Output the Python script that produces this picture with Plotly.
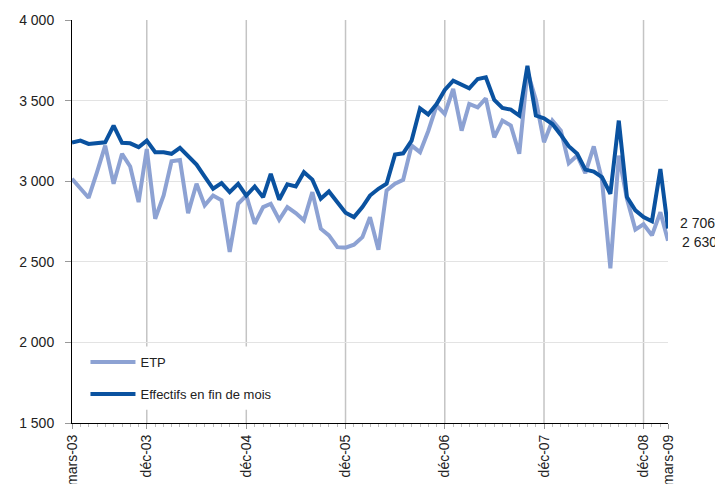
import pandas as pd
import plotly.graph_objects as go

# monthly series, mars-03 .. mars-09 (73 months)
months = pd.date_range("2003-03-01", periods=73, freq="MS")

etp = [
    3015, 2957, 2897, 3056, 3221, 2984, 3170, 3091, 2870, 3200,
    2767, 2911, 3124, 3132, 2802, 2984, 2850, 2911, 2881, 2561,
    2860, 2911, 2736, 2839, 2860, 2761, 2839, 2802, 2757, 2932,
    2705, 2664, 2591, 2588, 2606, 2653, 2777, 2575, 2942, 2984,
    3009, 3221, 3180, 3310, 3469, 3417, 3572, 3314, 3479, 3458,
    3514, 3272, 3376, 3345, 3170, 3680, 3505, 3242, 3376, 3314,
    3111, 3159, 3050, 3216, 3010, 2460, 3159, 2891, 2700, 2733,
    2664, 2808, 2630,
]

effectifs = [
    3240, 3252, 3231, 3233, 3241, 3345, 3238, 3235, 3211, 3252,
    3180, 3180, 3170, 3207, 3160, 3103, 3029, 2953, 2988, 2932,
    2984, 2911, 2967, 2901, 3046, 2885, 2980, 2967, 3056, 3010,
    2891, 2936, 2870, 2804, 2777, 2839, 2911, 2953, 2984, 3165,
    3173, 3252, 3452, 3414, 3479, 3566, 3623, 3597, 3576, 3634,
    3644, 3504, 3454, 3444, 3407, 3716, 3407, 3390, 3355, 3287,
    3217, 3170, 3072, 3060, 3025, 2922, 3376, 2901, 2819, 2777,
    2752, 3076, 2706,
]

tick_dates = ["2003-03-01", "2003-12-01", "2004-12-01", "2005-12-01",
              "2006-12-01", "2007-12-01", "2008-12-01", "2009-03-01"]
tick_text = ["mars-03", "déc-03", "déc-04", "déc-05",
             "déc-06", "déc-07", "déc-08", "mars-09"]
grid_dates = tick_dates[1:-1]

FONT = "Liberation Sans, Arial, sans-serif"
LIGHT = "#8DA2D3"
DARK = "#0A52A0"


def fmt(v):
    return f"{v:,}".replace(",", " ")


fig = go.Figure()

fig.add_trace(go.Scatter(
    x=months, y=etp, name="ETP", mode="lines",
    line={"color": LIGHT, "width": 4}, legend="legend",
))
fig.add_trace(go.Scatter(
    x=months, y=effectifs, name="Effectifs en fin de mois", mode="lines",
    line={"color": DARK, "width": 4}, legend="legend2",
))

# vertical gridlines only at the december ticks
for d in grid_dates:
    fig.add_shape(type="line", x0=d, x1=d, y0=0, y1=1, xref="x", yref="paper",
                  line={"color": "#C4C4C4", "width": 1.5}, layer="below")

# white patch behind the legend (hides gridlines there)
fig.add_shape(type="rect", xref="paper", yref="paper",
              x0=0.02, x1=0.36, y0=0.033, y1=0.19,
              fillcolor="white", line={"width": 0}, layer="below")

# end-of-series value labels
fig.add_annotation(x=months[-1], y=effectifs[-1], text=fmt(effectifs[-1]),
                   showarrow=False, xanchor="left", xshift=10, yshift=6,
                   font={"size": 14, "color": "#222"})
fig.add_annotation(x=months[-1], y=etp[-1], text=fmt(etp[-1]),
                   showarrow=False, xanchor="left", xshift=12, yshift=-1,
                   font={"size": 14, "color": "#222"})

legend_common = {
    "xanchor": "left", "yanchor": "middle", "bgcolor": "white",
    "font": {"size": 13, "color": "#222", "family": FONT},
    "itemwidth": 45,
}

# the page body has an 8px margin, so margins are offset by 8px
fig.update_layout(
    width=723, height=484,
    margin={"l": 63.5, "r": 63, "t": 12, "b": 69},
    paper_bgcolor="white", plot_bgcolor="white",
    font={"family": FONT, "color": "#222"},
    separators=", ",
    showlegend=True,
    legend={**legend_common, "x": 0.0226, "y": 0.151},
    legend2={**legend_common, "x": 0.0226, "y": 0.072},
)

fig.update_xaxes(
    type="date", automargin=False,
    range=[months[0], months[-1]],
    tickvals=tick_dates, ticktext=tick_text, tickangle=-90,
    tickfont={"size": 14, "color": "#222"},
    ticks="outside", ticklen=5, tickcolor="#999",
    minor={"ticks": "outside", "ticklen": 3, "tickcolor": "#BBB",
           "dtick": "M1", "tick0": "2003-03-01", "showgrid": False},
    showgrid=False, showline=True, linecolor="black", linewidth=1,
    zeroline=False,
)
fig.update_yaxes(
    automargin=False,
    range=[1500, 4000], dtick=500, tickformat=",d",
    tickfont={"size": 14, "color": "#222"},
    ticks="outside", ticklen=6, tickcolor="#999", ticklabelstandoff=8,
    showgrid=True, gridcolor="#E3E3E3", gridwidth=1,
    showline=True, linecolor="black", linewidth=1,
    zeroline=False,
)

fig.write_html("out.html")
